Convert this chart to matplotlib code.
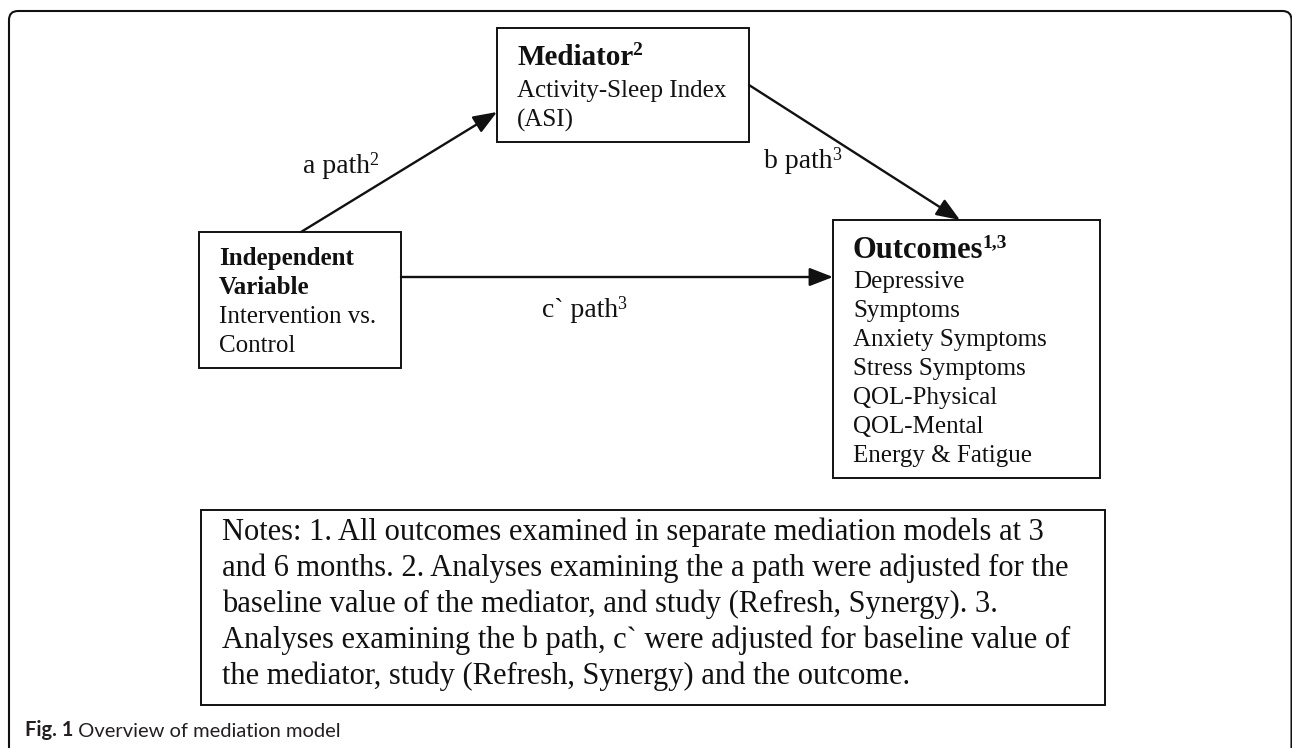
import matplotlib
matplotlib.use("Agg")
import matplotlib.pyplot as plt
from matplotlib.patches import FancyBboxPatch, Rectangle

# ---- content ----
mediator_title = "Mediator"
mediator_sup = "2"
mediator_lines = ["Activity-Sleep Index", "(ASI)"]

iv_title_lines = ["Independent", "Variable"]
iv_lines = ["Intervention vs.", "Control"]

outcome_title = "Outcomes"
outcome_sup = "1,3"
outcome_lines = ["Depressive", "Symptoms", "Anxiety Symptoms", "Stress Symptoms",
                 "QOL-Physical", "QOL-Mental", "Energy & Fatigue"]

path_labels = ["a path", "b path", "c` path"]
path_sups = ["2", "3", "3"]

notes_lines = [
    "Notes: 1. All outcomes examined in separate mediation models at 3",
    "and 6 months. 2. Analyses examining the a path were adjusted for the",
    "baseline value of the mediator, and study (Refresh, Synergy). 3.",
    "Analyses examining the b path, c` were adjusted for baseline value of",
    "the mediator, study (Refresh, Synergy) and the outcome.",
]

caption_bold = "Fig. 1"
caption_text = " Overview of mediation model"

# ---- layout (pixel space) ----
W, H = 1292, 748
INK = "#111111"
SERIF = "Liberation Serif"

boxes = {
    "mediator": (497, 28, 749, 142),
    "iv": (199, 232, 401, 368),
    "outcome": (833, 220, 1100, 478),
    "notes": (201, 510, 1105, 705),
}
arrows = [((301, 232), (497, 112)),
          ((749, 85), (960, 220)),
          ((401, 277), (833, 277))]
label_pos = [(303, 173), (764, 168), (542, 317)]

fig = plt.figure(figsize=(W / 100, H / 100), dpi=100)
ax = fig.add_axes([0, 0, 1, 1])
ax.set_xlim(0, W)
ax.set_ylim(H, 0)
ax.axis("off")

# outer frame
frame = FancyBboxPatch((9, 11), 1282.5, 800,
                       boxstyle="round,pad=0,rounding_size=9",
                       fill=False, ec=INK, lw=1.5)
ax.add_patch(frame)

for key, (x0, y0, x1, y1) in boxes.items():
    ax.add_patch(Rectangle((x0, y0), x1 - x0, y1 - y0, fill=False,
                           ec=INK, lw=1.4))


def txt(x, y, s, size, bold=False):
    return ax.text(x, y, s, fontsize=size, family=SERIF,
                   fontweight="bold" if bold else "normal",
                   ha="left", va="baseline", color=INK)


def sup(artist, s, size, bold=False):
    ax.annotate(s, xy=(1, 1), xycoords=artist, xytext=(-0.5, 1.5),
                textcoords="offset points", fontsize=size, family=SERIF,
                fontweight="bold" if bold else "normal",
                ha="left", va="top", color=INK)


# mediator box
t = txt(517, 65, mediator_title, 21, bold=True)
sup(t, mediator_sup, 14, bold=True)
for i, s in enumerate(mediator_lines):
    txt(517, 97 + i * 30, s, 18)

# independent variable box
for i, s in enumerate(iv_title_lines):
    txt(219, 265 + i * 29, s, 18, bold=True)
for i, s in enumerate(iv_lines):
    txt(219, 323 + i * 29, s, 18)

# outcomes box
t = txt(853, 258, outcome_title, 22, bold=True)
sup(t, outcome_sup, 14, bold=True)
for i, s in enumerate(outcome_lines):
    txt(853, 288 + i * 29, s, 18)

# arrows
for (p0, p1) in arrows:
    ax.annotate("", xy=p1, xytext=p0, xycoords="data",
                arrowprops=dict(arrowstyle="-|>,head_length=0.9,head_width=0.35",
                                lw=1.7, color=INK, shrinkA=0, shrinkB=0,
                                mutation_scale=16))

# path labels
for (x, y), s, sp in zip(label_pos, path_labels, path_sups):
    t = txt(x, y, s, 20)
    sup(t, sp, 13)

# notes
for i, s in enumerate(notes_lines):
    txt(222, 540 + i * 36, s, 22)

# caption
c = ax.text(25, 736, caption_bold, fontsize=14.5, family="Lato",
            fontweight="bold", ha="left", va="baseline", color="#231f20")
ax.annotate(caption_text, xy=(1, 0), xycoords=c, fontsize=14.5, family="Lato",
            ha="left", va="bottom", color="#231f20")

fig.savefig("out.png", dpi=100)
